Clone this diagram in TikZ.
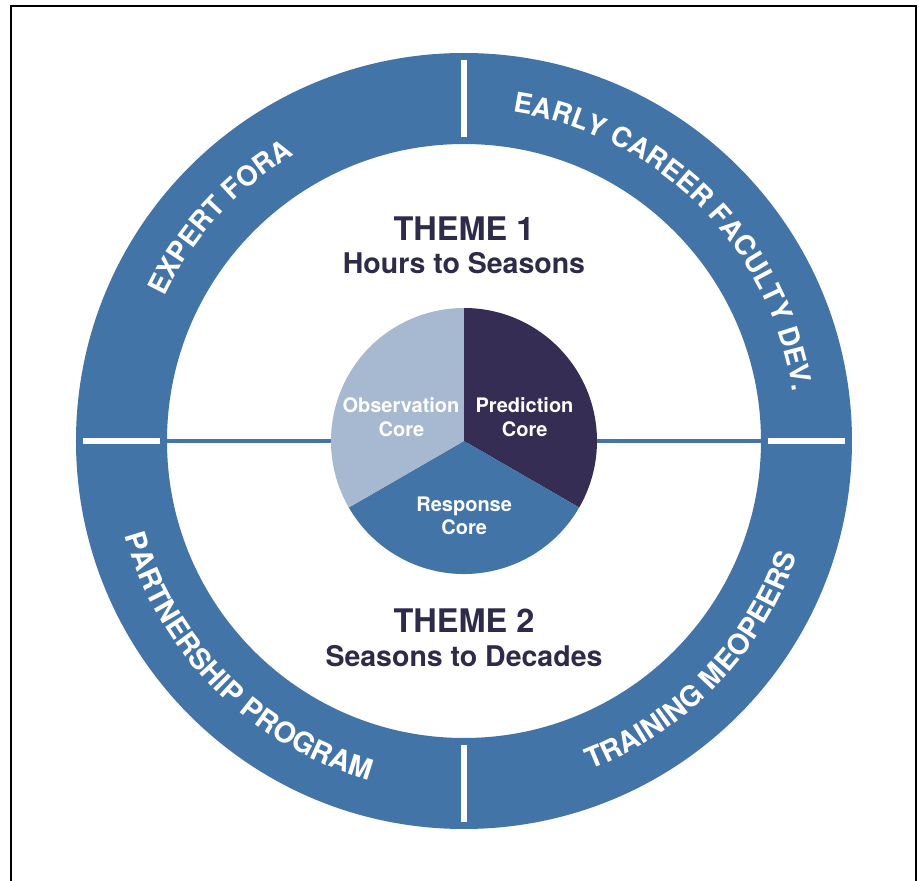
\documentclass[tikz,border=0pt]{standalone}
\usepackage{fontspec}
\setmainfont{TeX Gyre Heros}
\usetikzlibrary{decorations.text}
\definecolor{ringblue}{HTML}{4374A8}
\definecolor{navytext}{HTML}{2D2A4A}
\definecolor{predcol}{HTML}{352D53}
\definecolor{obscol}{HTML}{A6B9D1}
\tikzset{
  themetitle/.style={anchor=base, text=navytext, font=\fontsize{32.5}{34}\selectfont\bfseries, inner sep=0pt},
  themesub/.style={anchor=base, text=navytext, font=\fontsize{28.5}{30}\selectfont\bfseries, inner sep=0pt},
  coretext/.style={anchor=base, text=white, font=\fontsize{20}{22}\selectfont\bfseries, inner sep=0pt},
  divider/.style={white, line width=6pt},
  ringtext/.style={decorate, decoration={text along path, text align=center, text color=white, text={#1}}}
}
\newcommand{\ringfont}{\fontsize{27.5}{30}\selectfont\bfseries}
\newcommand{\ringfontb}{\fontsize{28.5}{30}\selectfont\bfseries}
\begin{document}
\begin{tikzpicture}[x=1pt,y=1pt]
\useasboundingbox (-464,-440) rectangle (455,441);
\fill[white] (-464,-440) rectangle (455,441);
% frame
\draw[line width=2.5pt] (-453,-470) -- (-453,435) -- (452,435) -- (452,-470);
% outer ring
\fill[ringblue, even odd rule] (0,0) circle[radius=388pt] (0,0) circle[radius=297pt];
% ring dividers
\draw[divider] (90:304pt) -- (90:381pt);
\draw[divider] (270:304pt) -- (270:381pt);
\draw[divider] (180:304pt) -- (180:381pt);
\draw[divider] (0:304pt) -- (0:381pt);
% interior horizontal line
\coordinate (lin) at (180:297pt);
\coordinate (rin) at (0:297pt);
\draw[ringblue, line width=4.5pt] (lin) -- (rin);
% pie
\fill[predcol] (0,0) -- (90:133pt) arc[start angle=90, end angle=-30, radius=133pt] -- cycle;
\fill[ringblue] (0,0) -- (-30:133pt) arc[start angle=-30, end angle=-150, radius=133pt] -- cycle;
\fill[obscol] (0,0) -- (210:133pt) arc[start angle=210, end angle=90, radius=133pt] -- cycle;
% pie texts
\node[coretext] (obs1) at (-63,28) {Observation};
\node[coretext] (obs2) at (-62.5,4) {Core};
\node[coretext] (pred1) at (60.5,28) {Prediction};
\node[coretext] (pred2) at (60.7,4) {Core};
\node[coretext] (resp1) at (0.2,-70.7) {Response};
\node[coretext] (resp2) at (0.2,-94) {Core};
% themes
\node[themetitle] (t1) at (0,200.6) {THEME 1};
\node[themesub] (t1s) at (0,167.4) {Hours to Seasons};
\node[themetitle] (t2) at (0,-191) {THEME 2};
\node[themesub] (t2s) at (0,-225) {Seasons to Decades};
% ring texts
\path[ringtext={|\ringfont|EXPERT FORA}] (177.5:332.5pt) arc[start angle=177.5, end angle=97.5, radius=332.5pt];
\path[ringtext={|\ringfont|EARLY CAREER FACULTY DEV.}] (105:332.5pt) arc[start angle=105, end angle=-15, radius=332.5pt];
\path[ringtext={|\ringfontb|PARTNERSHIP PROGRAM}] (175:352pt) arc[start angle=175, end angle=275, radius=352pt];
\path[ringtext={|\ringfontb|TRAINING MEOPEERS}] (266:352pt) arc[start angle=266, end angle=366, radius=352pt];
\end{tikzpicture}
\end{document}
